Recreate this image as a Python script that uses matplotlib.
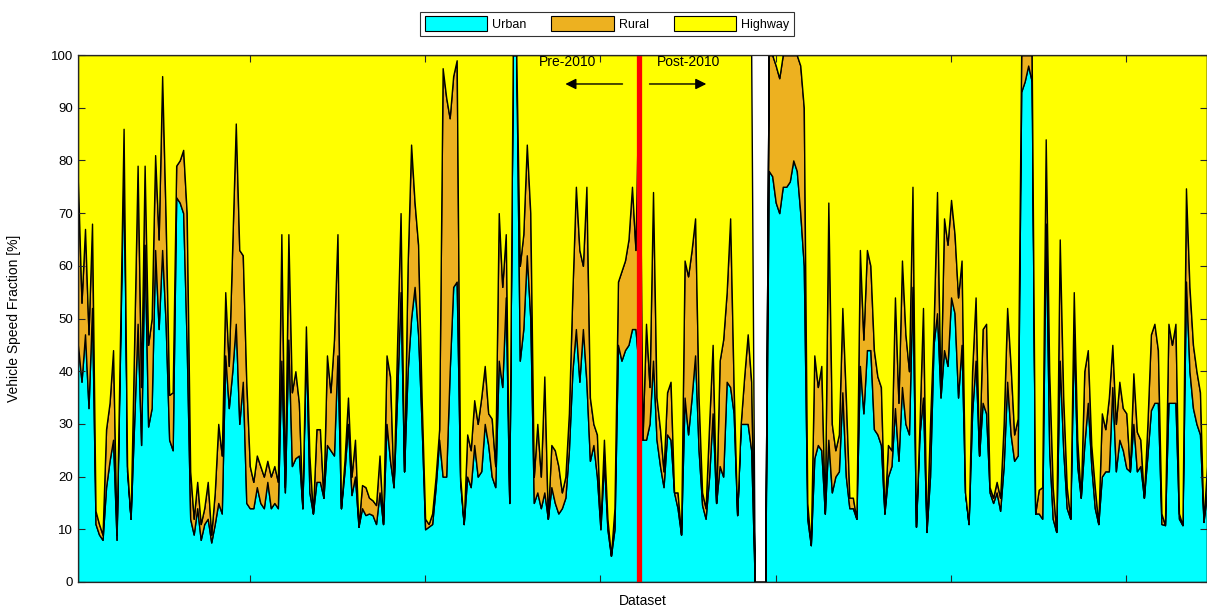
import numpy as np
import matplotlib
matplotlib.use("Agg")
import matplotlib.pyplot as plt
from matplotlib.patches import Patch

plt.rcParams['font.family'] = ['Liberation Sans', 'DejaVu Sans']

# ---- data (fractions in %, one value per dataset) ----
urban = [45, 38, 47, 33, 52, 11, 9, 8, 18, 23, 27, 8, 44, 82, 21, 12, 30, 49, 26, 64,
         29.5, 33, 63, 48, 63, 49, 27, 25, 73, 72, 70, 45, 12, 9, 14, 8, 11, 12, 7.5, 11,
         15, 13, 43, 33, 40, 49, 30, 38, 15, 14, 14, 18, 15, 14, 19, 14, 15, 14, 42, 17,
         46, 22, 23.5, 24, 14, 45, 17, 13, 19, 19, 16, 26, 25, 24, 43, 14, 21, 30, 16.5, 20,
         10.5, 14, 12.7, 13, 12.7, 11, 17, 11, 30, 23, 18, 35, 55, 21, 40, 50, 56, 47, 30, 10,
         10.5, 11, 18, 27, 20, 20, 40, 56, 57, 19, 11, 20, 18, 26, 20, 21, 30, 26, 20, 18,
         42, 37, 54, 15, 100, 100, 42, 48, 62, 50, 15, 17, 14, 17, 12, 18, 15, 13, 14, 16,
         25, 40, 48, 38, 48, 38, 23, 26, 20, 10, 23, 10, 5, 10, 45, 42, 44, 45, 48, 48,
         40, 27, 27, 30, 42, 27, 22, 18, 28, 27, 17, 14, 9, 35, 28, 35, 43, 25, 14.6, 12,
         20, 32, 15, 22, 20, 38, 37, 32, 12.7, 30, 30, 30, 25, 0, 0, 0, 0, 78, 77, 72,
         70, 75, 75, 76, 80, 78, 70, 60, 12, 7, 23.5, 26, 25, 13, 27, 17, 20, 21, 36, 20,
         14, 14, 12, 41, 32, 44, 44, 29, 28, 26, 13, 20, 22, 33, 23, 37, 30, 28, 56, 10.5,
         28, 35, 9.5, 20, 45, 51, 35, 44, 41, 54, 51, 35, 45, 17, 11, 32, 42, 24, 34, 32,
         17, 15, 17, 13.5, 22, 38, 28, 23, 24, 93, 95, 98, 95, 13, 13, 12, 68, 25, 12, 9.5,
         42, 25, 14, 12, 47, 22, 16, 26, 34, 22, 14, 11, 20, 21, 21, 37, 21, 27, 25, 21.6,
         21, 30, 21, 22, 16, 24, 32.6, 34, 34, 11, 10.8, 34, 34, 34, 12, 10.8, 57, 40, 33, 30,
         28, 11.4, 17]

urban_plus_rural = [76, 53, 67, 47, 68, 13.5, 11, 9, 29, 34, 44, 9, 47, 86, 22, 12, 45, 79, 37, 79,
                    45, 50, 81, 65, 96, 69, 35.5, 36, 79, 80, 82, 70, 21, 12, 19, 11, 14, 19, 9, 17,
                    30, 24, 55, 41, 64, 87, 63, 62, 38, 22, 19, 24, 22, 20, 23, 20, 22, 19, 66, 18,
                    66, 36, 40, 34, 14, 48.5, 24, 13, 29, 29, 16, 43, 36, 46, 66, 14, 23, 35, 20, 27,
                    10.5, 18.4, 18, 16, 15.5, 14.6, 24, 11, 43, 39, 18, 45, 70, 21, 60, 83, 72, 64, 35, 12,
                    11, 13, 20, 29, 97.5, 92, 88, 96, 99, 20, 11, 28, 25, 34.5, 30, 35, 41, 32, 31, 22,
                    70, 56, 66, 15, 100, 100, 60, 66, 83, 70, 20, 30, 20, 39, 12, 26, 25, 22, 17, 20,
                    32, 55, 75, 63, 60, 75, 35, 30, 28, 11, 27, 12, 5, 14, 57, 59, 61, 65, 75, 63,
                    100, 27, 49, 37, 74, 35, 29, 21, 36, 38, 17, 17, 9, 61, 58, 63, 69, 35, 17, 14,
                    30, 45, 15, 42, 46, 55, 69, 37, 12.7, 30, 39, 47, 38, 0, 0, 0, 0, 100, 100, 98,
                    95.6, 100, 100, 100, 100, 100, 98, 90, 15, 7, 43, 37, 41, 13, 72, 30, 25, 28, 52, 35,
                    16, 16, 12, 63, 46, 63, 60, 44, 39, 37, 13, 26, 25, 54, 34, 61, 47, 40, 75, 10.5,
                    30, 52, 9.5, 30, 48, 74, 36, 69, 64, 72.5, 66, 54, 61, 17, 11, 40, 54, 24, 48, 49,
                    18, 16, 19, 16, 30, 52, 41, 28, 31, 100, 100, 100, 100, 13, 17.5, 18, 84, 40, 18, 9.5,
                    65, 35, 18, 12, 55, 27, 16, 40, 44, 26, 18, 11, 32, 29, 35, 45, 30, 38, 33, 32,
                    21, 39.6, 28.5, 27, 16, 30, 47, 49, 44, 13, 10.8, 49, 45, 49, 13, 10.8, 74.7, 56, 45, 40,
                    36, 11.4, 22]

series_names = ["Urban", "Rural", "Highway"]
series_colors = ["#00FFFF", "#EDB120", "#FFFF00"]
split_dataset = 161          # Pre-2010 / Post-2010 boundary
y_ticks = list(range(0, 101, 10))
x_ticks = [50, 100, 150, 200, 250, 300]

# ---- derived series ----
u = np.array(urban, dtype=float)
t = np.array(urban_plus_rural, dtype=float)
rural = t - u
highway = np.where(t > 0, 100 - t, 0.0)
x = np.arange(1, len(u) + 1)

fig = plt.figure(figsize=(12.07, 6.08), dpi=100)
ax = fig.add_axes([78 / 1207, 1 - 582 / 608, 1129 / 1207, 527 / 608])

ax.stackplot(x, u, rural, highway, colors=series_colors,
             edgecolor="black", linewidth=1.0)

ax.axvline(split_dataset, color="#FF0000", linewidth=3.8, zorder=5)

ax.set_xlim(1, len(u))
ax.set_ylim(0, 100)
ax.set_yticks(y_ticks)
ax.set_xticks(x_ticks)
ax.set_xticklabels([])
ax.tick_params(axis="both", direction="in", length=5, width=0.8,
               top=True, right=True, labelsize=9.5, colors="#262626")
ax.tick_params(axis="y", labelcolor="black")
for sp in ax.spines.values():
    sp.set_linewidth(0.9)
    sp.set_color("#262626")
    sp.set_zorder(10)

ax.set_xlabel("Dataset", fontsize=10, va="center")
ax.xaxis.set_label_coords(0.5, -(601 - 582) / 527)
ax.set_ylabel("Vehicle Speed Fraction [%]", fontsize=10, va="center")
ax.yaxis.set_label_coords(-(78 - 14) / 1129, 0.5)

# Pre / Post annotations
ax.text(140.5, 98.7, "Pre-2010", ha="center", va="center", fontsize=10, zorder=6)
ax.text(175.0, 98.7, "Post-2010", ha="center", va="center", fontsize=10, zorder=6)
ax.annotate("", xy=(140.0, 94.5), xytext=(156.3, 94.5),
            arrowprops=dict(arrowstyle="-|>", color="black", lw=1.0,
                            mutation_scale=16, shrinkA=0, shrinkB=0), zorder=6)
ax.annotate("", xy=(180.2, 94.5), xytext=(164.0, 94.5),
            arrowprops=dict(arrowstyle="-|>", color="black", lw=1.0,
                            mutation_scale=16, shrinkA=0, shrinkB=0), zorder=6)

handles = [Patch(facecolor=c, edgecolor="black", linewidth=0.8) for c in series_colors]
leg = fig.legend(handles, series_names, loc="center",
                 bbox_to_anchor=(607 / 1207, 1 - 23.5 / 608), ncol=3,
                 frameon=True, fancybox=False, edgecolor="black",
                 fontsize=9, handlelength=5.0, handleheight=1.5,
                 handletextpad=0.4, columnspacing=2.0, borderpad=0.35,
                 borderaxespad=0)
leg.get_frame().set_linewidth(0.8)

fig.savefig("out.png", dpi=100)
